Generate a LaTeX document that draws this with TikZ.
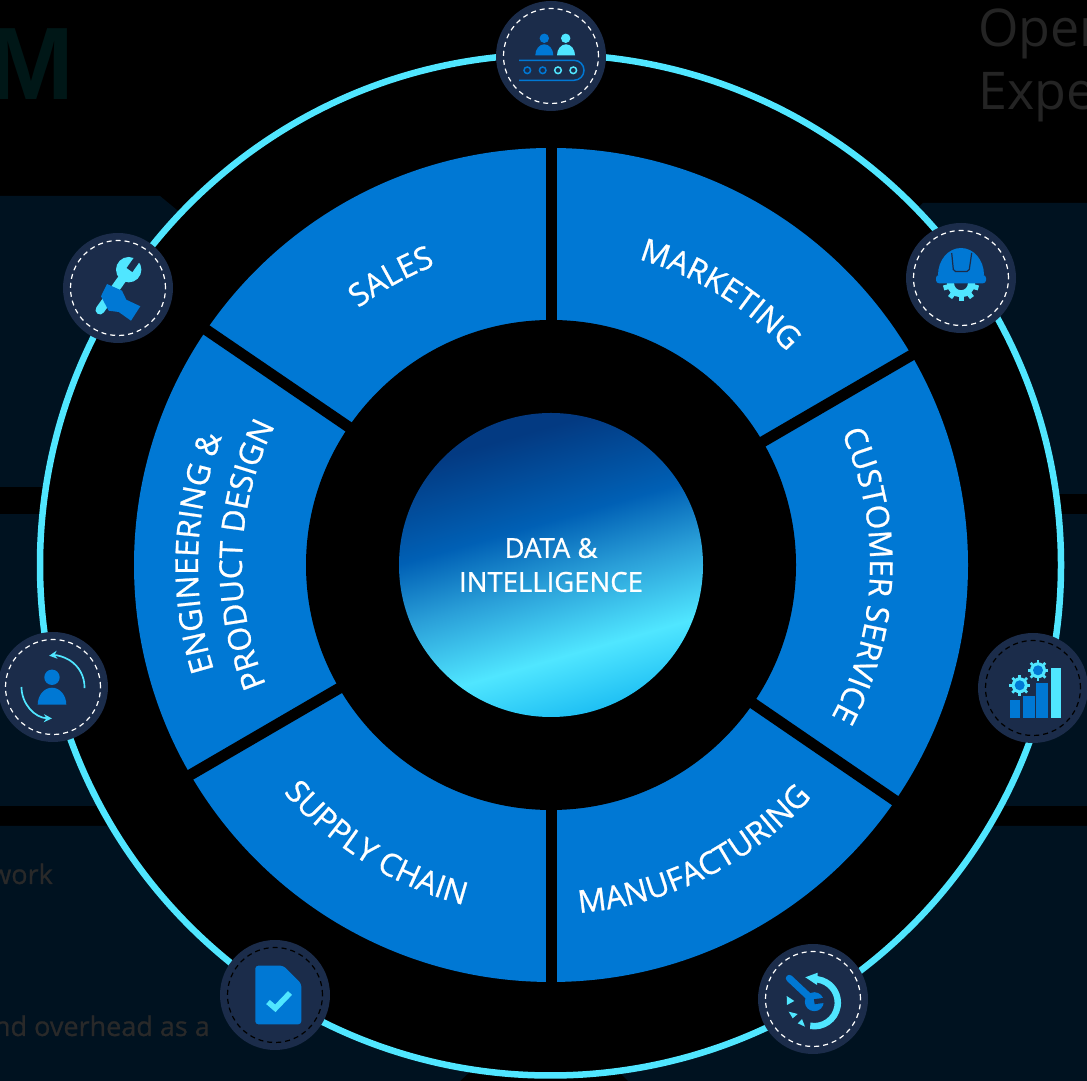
\documentclass[tikz,border=0pt]{standalone}
\usepackage{fontspec}
\setmainfont{Open Sans}
\newfontfamily\boldfont{Liberation Sans}
\newfontfamily\labelfont[FakeBold=0.8]{Open Sans}
\usetikzlibrary{arrows.meta,decorations.text}
\definecolor{panelblue}{HTML}{001220}
\definecolor{segblue}{HTML}{0078D4}
\definecolor{ringcyan}{HTML}{50E6FF}
\definecolor{iconblue}{HTML}{1B2C4A}
\definecolor{coreA}{HTML}{10B4F0}
\definecolor{coreB}{HTML}{2A9FD8}
\definecolor{coreC}{HTML}{0060B5}
\definecolor{coreD}{HTML}{033A82}
\pgfdeclareverticalshading{coreshade}{100bp}{
  color(0bp)=(coreA);
  color(22bp)=(coreA);
  color(35bp)=(ringcyan);
  color(47bp)=(coreB);
  color(57bp)=(coreC);
  color(72bp)=(coreD);
  color(100bp)=(coreD)}
\newcommand{\segfont}{\labelfont\fontsize{31.5}{31.5}\selectfont}
\newcommand{\drawgear}[3]{
  \foreach \t in {0,45,...,315} {
    \draw[ringcyan,line width=2.6pt] (#1) ++(\t:#2-2) -- ++(\t:4.4);
  }
  \fill[ringcyan] (#1) circle (#2);
  \fill[#3] (#1) circle (#2-3);
}
\begin{document}
\begin{tikzpicture}[x=1pt,y=1pt]
\tikzset{
  panel/.style={fill=panelblue,draw=none},
  ghost/.style={inner sep=0pt,text=#1},
  iconbase/.style={shape=circle,fill=iconblue,minimum size=110pt,inner sep=0pt},
  stitch/.style={draw=#1,dashed,dash pattern=on 5pt off 4pt,line width=1.2pt},
  arctext/.style={decorate,decoration={text along path,text align=center,
    text={|\segfont\color{white}|#1}}}
}
\clip (0,0) rectangle (1087,1081);
\fill[black] (0,0) rectangle (1087,1081);
\coordinate (ctr) at (551,516);
% panels behind the ring
\fill[panel] (0,885) -- (160,885) -- (177,871) -- (300,760) -- (300,594) -- (0,594) -- cycle;
\fill[panel] (0,567) -- (200,567) -- (200,275) -- (0,275) -- cycle;
\fill[panel] (0,255) -- (475,255) -- (475,14) -- (460,0) -- (0,0) -- cycle;
\fill[panel] (1087,878) -- (923,878) -- (900,856) -- (800,700) -- (800,587) -- (1087,587) -- cycle;
\fill[panel] (1087,567) -- (900,567) -- (900,275) -- (1087,275) -- cycle;
\fill[panel] (1087,255) -- (615,255) -- (615,13) -- (628,0) -- (1087,0) -- cycle;
\node[ghost=black!82!teal,anchor=base east,font=\boldfont\bfseries\fontsize{103}{103}\selectfont] (bigm) at (75,981) {M};
\node[ghost=white!14!black,anchor=base west,font=\fontsize{52}{52}\selectfont] (openr) at (978,1034) {Oper};
\node[ghost=white!14!black,anchor=base west,font=\fontsize{52}{52}\selectfont] (exper) at (978,971) {Expe};
\node[ghost=white!16!black,anchor=base east,font=\labelfont\fontsize{27}{27}\selectfont] (workr) at (53,197) {work};
\node[ghost=white!16!black,anchor=base east,font=\labelfont\fontsize{27}{27}\selectfont] (overh) at (210,45) {nd overhead as a};
% ring and segments
\draw[ringcyan,fill=black,line width=6.5pt] (550.5,516) circle (510.5);
\fill[segblue] (ctr) circle (417);
\foreach \a in {90,30.2,-34.4,-90,210.2,145.7} {
  \draw[black,line width=11pt] (ctr) -- ++(\a:425);
}
\fill[black] (ctr) circle (245);
\node[shape=circle,minimum size=304pt,inner sep=0pt,shading=coreshade,shading angle=16,
  text=white,align=center,font=\labelfont\fontsize{27.5}{34}\selectfont] (core) at (ctr) {DATA \&\\INTELLIGENCE};
% labels
\path[arctext=SALES] ([shift={(174:321)}]ctr) arc[start angle=174,end angle=64,radius=321];
\path[arctext=MARKETING] ([shift={(113:318)}]ctr) arc[start angle=113,end angle=3,radius=318];
\path[arctext=CUSTOMER SERVICE] ([shift={(55:319)}]ctr) arc[start angle=55,end angle=-59,radius=319];
\path[arctext=MANUFACTURING] ([shift={(-118.5:349)}]ctr) arc[start angle=-118.5,end angle=-8.5,radius=349];
\path[arctext=SUPPLY CHAIN] ([shift={(-177:351)}]ctr) arc[start angle=-177,end angle=-67,radius=351];
\path[arctext={ENGINEERING {\&}}] ([shift={(233:353)}]ctr) arc[start angle=233,end angle=123,radius=353];
\path[arctext=PRODUCT DESIGN] ([shift={(233:309)}]ctr) arc[start angle=233,end angle=123,radius=309];
% icon discs
\node[iconbase] (belt) at (551,1025) {};
\node[iconbase] (spanner) at (118,793) {};
\node[iconbase] (helmet) at (961,803) {};
\node[iconbase] (bars) at (1033,393) {};
\node[iconbase] (person) at (53,394) {};
\node[iconbase] (docu) at (275,86) {};
\node[iconbase] (repair) at (813,82) {};
\foreach \n/\c in {belt/white,spanner/white,helmet/white,bars/black,person/white,docu/black,repair/white} {
  \draw[stitch=\c] (\n) circle (47.5);
}
% belt icon
\begin{scope}[shift={(belt)}]
  \fill[segblue] (-6.7,17.7) circle (4.7);
  \fill[segblue] (-15.7,.7) arc[start angle=180,end angle=0,x radius=9,y radius=11] -- cycle;
  \fill[ringcyan] (14.7,17.7) circle (4.7);
  \fill[ringcyan] (6,.7) arc[start angle=180,end angle=0,x radius=9,y radius=11] -- cycle;
  \draw[segblue,line width=1.5pt] (-32,-4.3) -- (23,-4.3) arc[start angle=90,end angle=-90,radius=10] -- (-32,-24.3);
  \draw[segblue,line width=1.5pt] (-23.7,-14.3) circle (3.3) (-8.3,-14.3) circle (3.3);
  \draw[ringcyan,line width=1.5pt] (7,-14.3) circle (3.3) (22.3,-14.3) circle (3.3);
\end{scope}
% spanner icon
\begin{scope}[shift={(spanner)}]
  \draw[ringcyan,line width=9pt,line cap=round] (10.7,18.3) -- (-18,-22);
  \fill[ringcyan] (10.7,18.3) circle (12.7);
  \draw[iconblue,line width=7pt] (11.5,18) -- (20,30);
  \fill[segblue] (-11,4) -- (4,-2.7) -- (8.3,-11.7) -- (22.3,-18.3) -- (13,-32.7)
    -- (.7,-24) -- (-9.3,-22.7) -- (-17,-8.3) -- cycle;
\end{scope}
% helmet icon
\begin{scope}[shift={(helmet)}]
  \foreach \t in {-165,-127.5,-90,-52.5,-15} {
    \draw[ringcyan,line width=5pt] (0,-5.3) ++(\t:10) -- ++(\t:8);
  }
  \draw[ringcyan,line width=7pt] (0,-5.3) circle (10.5);
  \fill[segblue] (-23,3) arc[start angle=180,end angle=0,x radius=23,y radius=27] -- cycle;
  \fill[segblue,rounded corners=3pt] (-25,3) rectangle (25,-5.3);
  \draw[iconblue,line width=1.2pt,rounded corners=2pt] (-9.3,25) -- (-7.5,6.5) -- (8,6.5) -- (10.7,25);
\end{scope}
% bars icon
\begin{scope}[shift={(bars)}]
  \fill[segblue] (-23.3,-12.3) rectangle (-13.3,-30.3);
  \fill[segblue] (-10.3,-8.3) rectangle (1.7,-30.3);
  \fill[segblue] (2.7,4.7) rectangle (14.7,-30.3);
  \fill[ringcyan] (17.7,19.7) rectangle (27.7,-30.3);
  \drawgear{-13.3,2.7}{8}{segblue}
  \drawgear{5,17.7}{8}{segblue}
\end{scope}
% person icon
\begin{scope}[shift={(person)}]
  \fill[segblue] (-1,9.7) circle (7.7);
  \fill[segblue] (-15.3,-17.7) arc[start angle=180,end angle=0,x radius=14.3,y radius=17] -- cycle;
  \draw[ringcyan,line width=1.7pt,-{Stealth[length=8pt,width=8pt]}] (-2:31.5) arc[start angle=-2,end angle=97,radius=31.5];
  \draw[ringcyan,line width=1.7pt,-{Stealth[length=8pt,width=8pt]}] (180:31.5) arc[start angle=180,end angle=268,radius=31.5];
\end{scope}
% document icon
\begin{scope}[shift={(docu)}]
  \fill[segblue,rounded corners=3pt] (-19.7,29.3) -- (8.3,29.3) -- (26.3,11.3) -- (26.3,-29.3) -- (-19.7,-29.3) -- cycle;
  \draw[ringcyan,line width=5.5pt] (-7,-7) -- (.3,-13.3) -- (15,2);
\end{scope}
% repair icon
\begin{scope}[shift={(repair)}]
  \draw[ringcyan,line width=6.5pt] (1.3,-3.7) ++(-100:23.5) arc[start angle=-100,end angle=92,radius=23.5];
  \fill[ringcyan] (4.7,26.3) -- (-7.7,21.7) -- (4,14) -- cycle;
  \draw[segblue,line width=7pt,line cap=round] (-23.7,20.7) -- (1.3,-2.7);
  \fill[segblue] (1.3,-2.7) circle (9.5);
  \draw[iconblue,line width=5pt] (1.3,-2.7) -- (14,-1);
  \fill[ringcyan] (-26.3,3) -- (-18.7,-2) -- (-26,-6) -- cycle;
  \fill[ringcyan] (-24.3,-12.7) -- (-15.3,-15) -- (-20.3,-19.3) -- cycle;
  \fill[ringcyan] (-15.3,-24.3) -- (-11,-20) -- (-8,-27.7) -- cycle;
\end{scope}
\end{tikzpicture}
\end{document}
